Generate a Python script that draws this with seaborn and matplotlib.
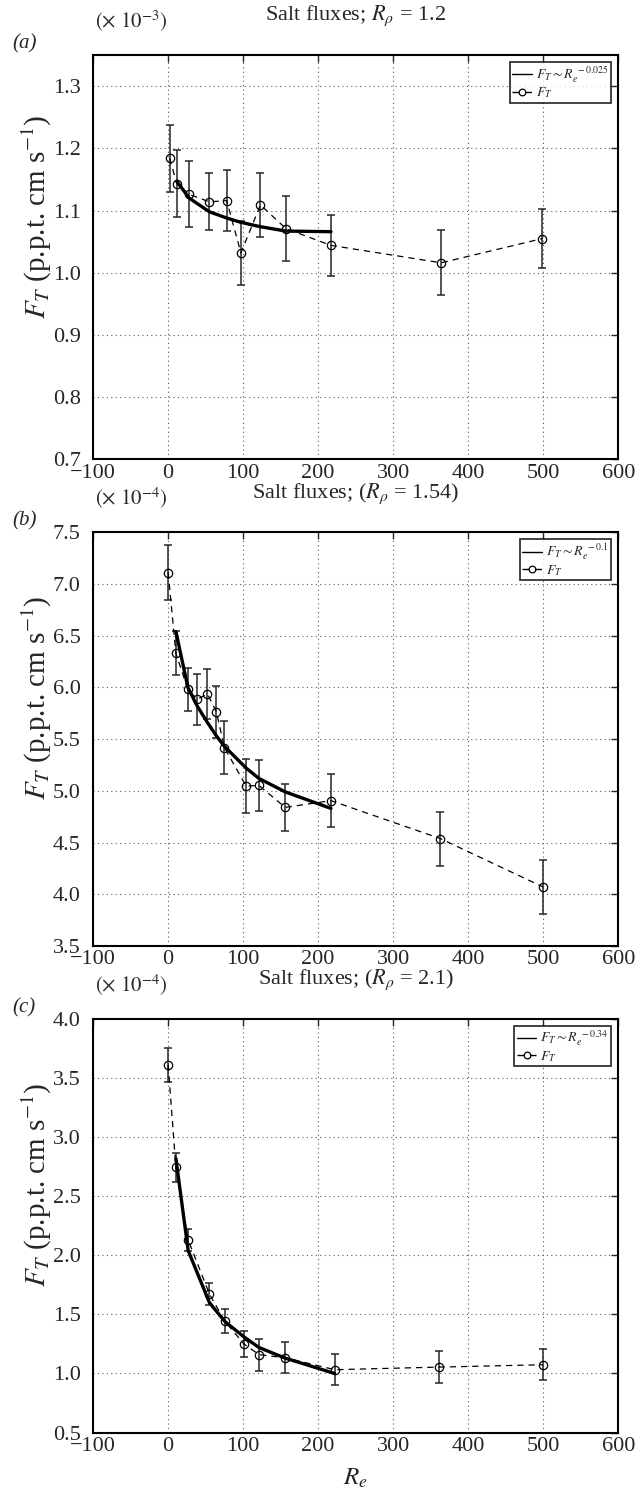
import numpy as np
import pandas as pd
import matplotlib
matplotlib.use("Agg")
import matplotlib.pyplot as plt
import seaborn as sns

# panel (a): R_rho = 1.2, fluxes in units of 1e-3
re_a = [2, 11.5, 28, 55, 78, 97, 123, 157, 217, 364, 499]
flux_a = [1.184, 1.143, 1.126, 1.114, 1.116, 1.032, 1.109, 1.071, 1.044, 1.016, 1.055]
err_a = [0.054, 0.054, 0.053, 0.046, 0.049, 0.051, 0.052, 0.052, 0.049, 0.052, 0.047]
fit_re_a = [11.5, 28, 55, 78, 97, 123, 157, 217]
fit_a = [1.147, 1.120, 1.098, 1.088, 1.081, 1.074, 1.067, 1.066]

# panel (b): R_rho = 1.54, fluxes in units of 1e-4
re_b = [0, 10.3, 26.3, 38.7, 52.4, 64.4, 75, 104, 121, 156, 217, 363, 500]
flux_b = [7.11, 6.33, 5.98, 5.885, 5.936, 5.762, 5.417, 5.046, 5.052, 4.84, 4.905, 4.538, 4.07]
err_b = [0.266, 0.213, 0.212, 0.248, 0.24, 0.254, 0.259, 0.257, 0.248, 0.23, 0.257, 0.26, 0.26]
fit_re_b = [10.3, 26.3, 38.7, 52.4, 64.4, 75, 104, 121, 156, 217]
fit_b = [6.54, 6.0, 5.82, 5.66, 5.53, 5.43, 5.22, 5.12, 4.99, 4.83]

# panel (c): R_rho = 2.1, fluxes in units of 1e-4
re_c = [0, 10.3, 26.7, 55, 75.6, 101, 121, 156, 222, 361, 500]
flux_c = [3.612, 2.745, 2.13, 1.673, 1.442, 1.25, 1.16, 1.133, 1.032, 1.054, 1.074]
err_c = [0.143, 0.124, 0.095, 0.097, 0.10, 0.112, 0.135, 0.13, 0.133, 0.133, 0.13]
fit_re_c = [10.3, 26.7, 55, 75.6, 101, 121, 156, 222]
fit_c = [2.82, 2.04, 1.60, 1.44, 1.31, 1.22, 1.13, 1.0]

sns.set_style("white")
plt.rcParams["font.family"] = ["Liberation Serif", "DejaVu Serif"]
plt.rcParams["mathtext.fontset"] = "stix"


def draw_panel(ax, re, flux, err, fit_re, fit, exponent, ylim, yticks, scale, title, tag):
    data = pd.DataFrame({"Re": re, "flux": flux})
    fitdf = pd.DataFrame({"Re": fit_re, "flux": fit})

    ax.errorbar(re, flux, yerr=err, fmt="none", ecolor="0.15", elinewidth=1.1,
                capsize=3, capthick=1.1, zorder=2)
    sns.lineplot(data=data, x="Re", y="flux", ax=ax, color="black", linestyle=(0, (5, 4)),
                 linewidth=0.9, marker="o", markersize=6, markerfacecolor="none",
                 markeredgecolor="black", markeredgewidth=0.9, sort=False,
                 estimator=None, label=r"$F_T$", zorder=3)
    sns.lineplot(data=fitdf, x="Re", y="flux", ax=ax, color="black", linewidth=2.4,
                 sort=False, estimator=None,
                 label=r"$F_T \sim R_e^{\;%s}$" % exponent, zorder=4)

    ax.set_xlim(-100, 600)
    ax.set_ylim(*ylim)
    ax.set_xticks(np.arange(-100, 601, 100))
    ax.set_yticks(yticks)
    ax.set_yticklabels(["%.1f" % t for t in yticks])
    ax.set_xlabel("")
    ax.set_ylabel(r"$F_T$ (p.p.t. cm s$^{-1}$)", fontsize=21)
    ax.yaxis.set_label_coords(-0.075, 0.6)
    ax.grid(True, linestyle=(0, (1, 3)), color="0.35", linewidth=0.8)
    ax.tick_params(direction="in", top=True, right=True, length=5, width=1,
                   labelsize=16)
    ax.tick_params(axis="y", pad=9)
    ax.tick_params(axis="x", pad=3)
    for sp in ax.spines.values():
        sp.set_color("black")
        sp.set_linewidth(1.5)

    handles, labels = ax.get_legend_handles_labels()
    leg = ax.legend(handles[::-1], labels[::-1], loc="upper right", fontsize=10,
                    frameon=True, fancybox=False, edgecolor="black",
                    handlelength=1.4, borderpad=0.2, labelspacing=0.05,
                    handletextpad=0.3, borderaxespad=0.5, markerscale=0.8)
    leg.get_frame().set_linewidth(1.3)
    for h in leg.get_lines():
        h.set_linewidth(1.0)

    ax.set_title(title, fontsize=16, pad=25)
    ax.annotate(r"$(\times\ 10^{%d})$" % scale, xy=(0, 1), xycoords="axes fraction",
                xytext=(1, 15), textcoords="offset points",
                fontsize=15, ha="left", va="bottom")
    ax.annotate("(%s)" % tag, xy=(0, 1), xycoords="axes fraction",
                xytext=(-58, 1), textcoords="offset points",
                fontsize=15, style="italic", ha="left", va="bottom")


fig = plt.figure(figsize=(6.38, 14.98), dpi=100)
left, width = 0.146, 0.823
ax_a = fig.add_axes([left, 0.6933, width, 0.2700])
ax_b = fig.add_axes([left, 0.3685, width, 0.2762])
ax_c = fig.add_axes([left, 0.0437, width, 0.2760])

draw_panel(ax_a, re_a, flux_a, err_a, fit_re_a, fit_a, "-0.025", (0.7, 1.35),
           [0.7, 0.8, 0.9, 1.0, 1.1, 1.2, 1.3], -3, r"Salt fluxes; $R_\rho$ = 1.2", "a")
draw_panel(ax_b, re_b, flux_b, err_b, fit_re_b, fit_b, "-0.1", (3.5, 7.5),
           [3.5, 4.0, 4.5, 5.0, 5.5, 6.0, 6.5, 7.0, 7.5], -4,
           r"Salt fluxes; ($R_\rho$ = 1.54)", "b")
draw_panel(ax_c, re_c, flux_c, err_c, fit_re_c, fit_c, "-0.34", (0.5, 4.0),
           [0.5, 1.0, 1.5, 2.0, 2.5, 3.0, 3.5, 4.0], -4,
           r"Salt fluxes; ($R_\rho$ = 2.1)", "c")
ax_c.set_xlabel(r"$R_e$", fontsize=18, labelpad=8)

fig.savefig("out.png", dpi=100)
